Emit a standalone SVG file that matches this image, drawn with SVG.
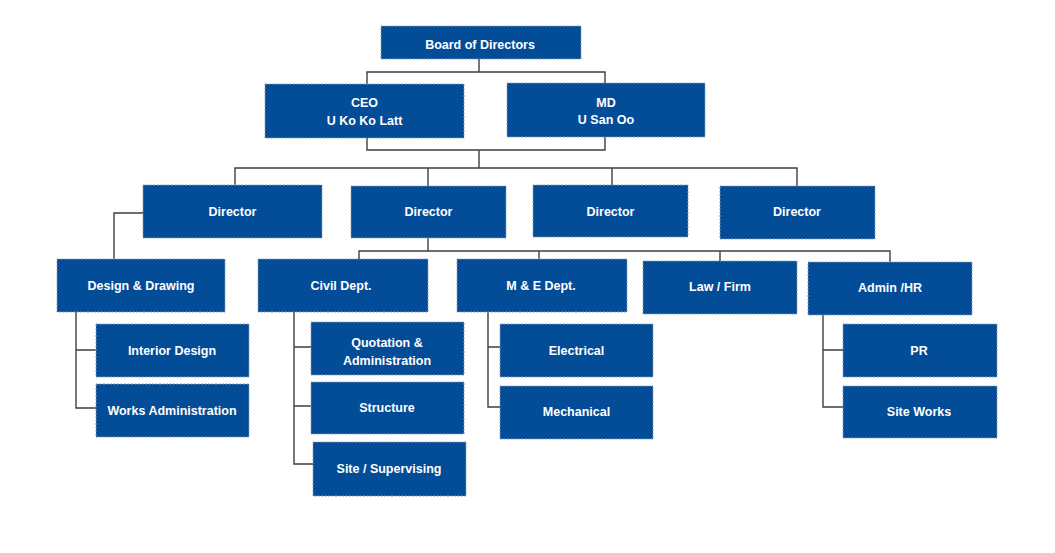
<svg xmlns="http://www.w3.org/2000/svg" width="1055" height="553" viewBox="0 0 1055 553">
<style>
.box{fill:#034C98;stroke:#8A9BB5;stroke-width:1;stroke-dasharray:2 1.5}
.t{fill:#fff;font-family:"Liberation Sans",Arial,sans-serif;font-weight:bold;font-size:12.5px;text-anchor:middle}
.c{fill:none;stroke:#3f3f3f;stroke-width:1.4}
</style>
<rect width="1055" height="553" fill="#fff"/>
<g id="connectors" class="c">
<path d="M479,59V72M367,84V72H605V83"/>
<path d="M367,138V150H605V137M479,150V168M235,185V168H797V186M428,168V186M612,168V185"/>
<path d="M143,213H114V259M57,312"/>
<path d="M76,312V408H96M76,350H96"/>
<path d="M428,238V251M359,259V251H890V262M539,251V259M720,251V261"/>
<path d="M294,312V464H313M294,347H311M294,406H311"/>
<path d="M488,312V407H500M488,347H500"/>
<path d="M823,315V407H843M823,350H843"/>
</g>
<g id="board"><rect class="box" x="381" y="26" width="200" height="33"/><text class="t" x="480" y="48.5">Board of Directors</text></g>
<g id="ceo"><rect class="box" x="265" y="84" width="199" height="54"/><text class="t" x="364.5" y="107">CEO</text><text class="t" x="364.5" y="124.5">U Ko Ko Latt</text></g>
<g id="md"><rect class="box" x="507" y="83" width="198" height="54"/><text class="t" x="606" y="106.5">MD</text><text class="t" x="606" y="124">U San Oo</text></g>
<g id="director1"><rect class="box" x="143" y="185" width="179" height="53"/><text class="t" x="232.5" y="215.5">Director</text></g>
<g id="director2"><rect class="box" x="351" y="186" width="155" height="52"/><text class="t" x="428.5" y="216">Director</text></g>
<g id="director3"><rect class="box" x="533" y="185" width="155" height="52"/><text class="t" x="610.5" y="215.5">Director</text></g>
<g id="director4"><rect class="box" x="720" y="186" width="155" height="53"/><text class="t" x="797" y="216">Director</text></g>
<g id="design"><rect class="box" x="57" y="259" width="168" height="53"/><text class="t" x="141" y="289.5">Design &amp; Drawing</text></g>
<g id="interior"><rect class="box" x="96" y="324" width="153" height="53"/><text class="t" x="172" y="354.5">Interior Design</text></g>
<g id="works"><rect class="box" x="96" y="384" width="153" height="53"/><text class="t" x="172" y="415">Works Administration</text></g>
<g id="civil"><rect class="box" x="258" y="259" width="170" height="53"/><text class="t" x="341" y="289.5">Civil Dept.</text></g>
<g id="quotation"><rect class="box" x="311" y="322" width="153" height="53"/><text class="t" x="387" y="347">Quotation &amp;</text><text class="t" x="387" y="364.5">Administration</text></g>
<g id="structure"><rect class="box" x="311" y="382" width="153" height="52"/><text class="t" x="387" y="412">Structure</text></g>
<g id="site"><rect class="box" x="313" y="442" width="153" height="54"/><text class="t" x="389" y="473">Site / Supervising</text></g>
<g id="me"><rect class="box" x="457" y="259" width="170" height="53"/><text class="t" x="541" y="289.5">M &amp; E Dept.</text></g>
<g id="electrical"><rect class="box" x="500" y="324" width="153" height="53"/><text class="t" x="576.5" y="355">Electrical</text></g>
<g id="mechanical"><rect class="box" x="500" y="386" width="153" height="53"/><text class="t" x="576.5" y="416">Mechanical</text></g>
<g id="law"><rect class="box" x="643" y="261" width="154" height="53"/><text class="t" x="720" y="291">Law / Firm</text></g>
<g id="admin"><rect class="box" x="808" y="262" width="164" height="53"/><text class="t" x="890" y="292">Admin /HR</text></g>
<g id="pr"><rect class="box" x="843" y="324" width="154" height="53"/><text class="t" x="919" y="355">PR</text></g>
<g id="siteworks"><rect class="box" x="843" y="386" width="154" height="52"/><text class="t" x="919" y="416">Site Works</text></g>
</svg>
